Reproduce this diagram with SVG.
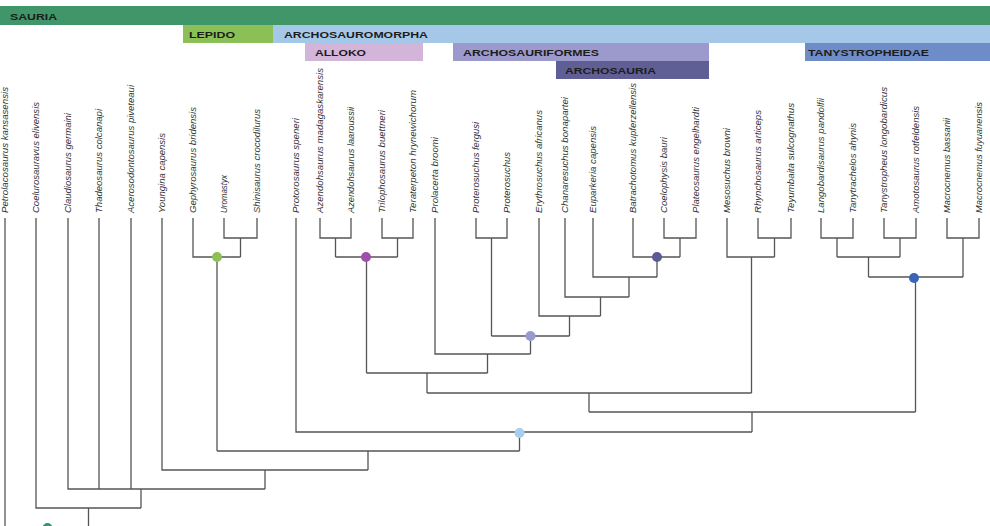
<svg xmlns="http://www.w3.org/2000/svg" width="990" height="526" viewBox="0 0 990 526">
<style>
.band{font-family:"Liberation Sans",Arial,sans-serif;font-weight:bold;font-size:9.5px;fill:#1c1c1c;}
.tx{font-family:"Liberation Sans",Arial,sans-serif;font-style:italic;font-size:9.5px;fill:#333;}
.ln{fill:none;stroke:#555;stroke-width:1.3;}
</style>
<rect width="990" height="526" fill="#fff"/>
<g id="clade-bands">
<g id="band-sauria"><rect x="0" y="6" width="990" height="19" fill="#409669"/><text class="band" x="10" y="19.5" textLength="47" lengthAdjust="spacingAndGlyphs">SAURIA</text></g>
<g id="band-lepido"><rect x="183" y="25" width="90" height="18" fill="#8bc057"/><text class="band" x="189" y="37.5" textLength="46" lengthAdjust="spacingAndGlyphs">LEPIDO</text></g>
<g id="band-archosauromorpha"><rect x="273" y="25" width="717" height="18" fill="#a6c8e8"/><text class="band" x="284" y="37.5" textLength="144" lengthAdjust="spacingAndGlyphs">ARCHOSAUROMORPHA</text></g>
<g id="band-alloko"><rect x="305" y="43" width="118" height="18" fill="#d4b5da"/><text class="band" x="315" y="55.5" textLength="51" lengthAdjust="spacingAndGlyphs">ALLOKO</text></g>
<g id="band-archosauriformes"><rect x="453" y="43" width="256" height="18" fill="#9c9acd"/><text class="band" x="463" y="55.5" textLength="136" lengthAdjust="spacingAndGlyphs">ARCHOSAURIFORMES</text></g>
<g id="band-archosauria"><rect x="556" y="61" width="153" height="18" fill="#5f5f95"/><text class="band" x="565" y="74" textLength="91" lengthAdjust="spacingAndGlyphs">ARCHOSAURIA</text></g>
<g id="band-tanystropheidae"><rect x="805" y="43" width="185" height="18" fill="#6e8cc7"/><text class="band" x="808" y="55.5" textLength="121" lengthAdjust="spacingAndGlyphs">TANYSTROPHEIDAE</text></g>
</g>
<g id="connectors">
<path class="ln" d="M5,218V530"/>
<path class="ln" d="M224,218V238H257V218M240.5,238V257"/>
<path class="ln" d="M193,218V257H240.5M217,257V451"/>
<path class="ln" d="M320,218V238H351V218M335.5,238V257"/>
<path class="ln" d="M382,218V238H413V218M397.5,238V257"/>
<path class="ln" d="M335.5,257H397.5M366.5,257V373"/>
<path class="ln" d="M476,218V238H507V218M491.5,238V336"/>
<path class="ln" d="M664,218V238H696V218M680,238V257"/>
<path class="ln" d="M633,218V257H680M657,257V277"/>
<path class="ln" d="M593,218V277H657M629,277V297"/>
<path class="ln" d="M565,218V297H629M600.5,297V316"/>
<path class="ln" d="M539,218V316H600.5M569.5,316V336"/>
<path class="ln" d="M491.5,336H569.5M530.5,336V354"/>
<path class="ln" d="M435,218V354H530.5M487.5,354V373"/>
<path class="ln" d="M366.5,373H487.5M427,373V393"/>
<path class="ln" d="M758,218V238H791V218M774.5,238V257"/>
<path class="ln" d="M727,218V257H774.5M751.5,257V393"/>
<path class="ln" d="M427,393H751.5M589,393V412"/>
<path class="ln" d="M821,218V238H853V218M837,238V257"/>
<path class="ln" d="M884,218V238H916V218M900,238V257"/>
<path class="ln" d="M837,257H900M868.5,257V277"/>
<path class="ln" d="M947,218V238H979V218M963,238V277"/>
<path class="ln" d="M868.5,277H963M915.5,277V412"/>
<path class="ln" d="M589,412H915.5M752,412V432"/>
<path class="ln" d="M296,218V432H752M519.5,432V451"/>
<path class="ln" d="M217,451H519.5M368,451V470"/>
<path class="ln" d="M162,218V470H368M265,470V489"/>
<path class="ln" d="M68,218V489H265M99,218V489M131,218V489M141,489V508"/>
<path class="ln" d="M36,218V508H141M88.5,508V530"/>
</g>
<g id="node-dots">
<g id="node-sauria"><circle cx="47.5" cy="528" r="5" fill="#3a9470"/></g>
<g id="node-lepidosauromorpha"><circle cx="217" cy="257" r="5" fill="#8cc152"/></g>
<g id="node-allokotosauria"><circle cx="366" cy="257" r="5" fill="#9b50ad"/></g>
<g id="node-archosauromorpha"><circle cx="519.5" cy="433" r="5" fill="#a8cdee"/></g>
<g id="node-archosauriformes"><circle cx="530.5" cy="336" r="5" fill="#9a99d0"/></g>
<g id="node-archosauria"><circle cx="657" cy="257" r="5" fill="#5b5b95"/></g>
<g id="node-tanystropheidae"><circle cx="914" cy="278" r="5" fill="#3b64b8"/></g>
</g>
<g id="taxa">
<g id="t1"><text class="tx" transform="translate(8.3,213) rotate(-90)" textLength="126" lengthAdjust="spacingAndGlyphs">Petrolacosaurus kansasensis</text></g>
<g id="t2"><text class="tx" transform="translate(39.3,213) rotate(-90)" textLength="111" lengthAdjust="spacingAndGlyphs">Coelurosauravus elivensis</text></g>
<g id="t3"><text class="tx" transform="translate(71.3,213) rotate(-90)" textLength="100" lengthAdjust="spacingAndGlyphs">Claudiosaurus germaini</text></g>
<g id="t4"><text class="tx" transform="translate(102.3,213) rotate(-90)" textLength="104" lengthAdjust="spacingAndGlyphs">Thadeosaurus colcanapi</text></g>
<g id="t5"><text class="tx" transform="translate(134.3,213) rotate(-90)" textLength="128" lengthAdjust="spacingAndGlyphs">Acerosodontosaurus piveteaui</text></g>
<g id="t6"><text class="tx" transform="translate(165.3,213) rotate(-90)" textLength="80" lengthAdjust="spacingAndGlyphs">Youngina capensis</text></g>
<g id="t7"><text class="tx" transform="translate(196.3,213) rotate(-90)" textLength="106" lengthAdjust="spacingAndGlyphs">Gephyrosaurus bridensis</text></g>
<g id="t8"><text class="tx" transform="translate(227.3,213) rotate(-90)" textLength="38" lengthAdjust="spacingAndGlyphs">Uromastyx</text></g>
<g id="t9"><text class="tx" transform="translate(260.3,213) rotate(-90)" textLength="104" lengthAdjust="spacingAndGlyphs">Shinisaurus crocodilurus</text></g>
<g id="t10"><text class="tx" transform="translate(299.3,213) rotate(-90)" textLength="95" lengthAdjust="spacingAndGlyphs">Protorosaurus speneri</text></g>
<g id="t11"><text class="tx" transform="translate(323.3,213) rotate(-90)" textLength="145" lengthAdjust="spacingAndGlyphs">Azendohsaurus madagaskarensis</text></g>
<g id="t12"><text class="tx" transform="translate(354.3,213) rotate(-90)" textLength="106" lengthAdjust="spacingAndGlyphs">Azendohsaurus laaroussii</text></g>
<g id="t13"><text class="tx" transform="translate(385.3,213) rotate(-90)" textLength="103" lengthAdjust="spacingAndGlyphs">Trilophosaurus buettneri</text></g>
<g id="t14"><text class="tx" transform="translate(416.3,213) rotate(-90)" textLength="123" lengthAdjust="spacingAndGlyphs">Teraterpeton hrynewichorum</text></g>
<g id="t15"><text class="tx" transform="translate(438.3,213) rotate(-90)" textLength="76" lengthAdjust="spacingAndGlyphs">Prolacerta broomi</text></g>
<g id="t16"><text class="tx" transform="translate(479.3,213) rotate(-90)" textLength="91" lengthAdjust="spacingAndGlyphs">Proterosuchus fergusi</text></g>
<g id="t17"><text class="tx" transform="translate(510.3,213) rotate(-90)" textLength="61" lengthAdjust="spacingAndGlyphs">Proterosuchus</text></g>
<g id="t18"><text class="tx" transform="translate(542.3,213) rotate(-90)" textLength="103" lengthAdjust="spacingAndGlyphs">Erythrosuchus africanus</text></g>
<g id="t19"><text class="tx" transform="translate(568.3,213) rotate(-90)" textLength="116" lengthAdjust="spacingAndGlyphs">Chanaresuchus bonapartei</text></g>
<g id="t20"><text class="tx" transform="translate(596.3,213) rotate(-90)" textLength="87" lengthAdjust="spacingAndGlyphs">Euparkeria capensis</text></g>
<g id="t21"><text class="tx" transform="translate(636.3,213) rotate(-90)" textLength="130" lengthAdjust="spacingAndGlyphs">Batrachotomus kupferzellensis</text></g>
<g id="t22"><text class="tx" transform="translate(667.3,213) rotate(-90)" textLength="76" lengthAdjust="spacingAndGlyphs">Coelophysis bauri</text></g>
<g id="t23"><text class="tx" transform="translate(699.3,213) rotate(-90)" textLength="106" lengthAdjust="spacingAndGlyphs">Plateosaurus engelhardti</text></g>
<g id="t24"><text class="tx" transform="translate(730.3,213) rotate(-90)" textLength="85" lengthAdjust="spacingAndGlyphs">Mesosuchus browni</text></g>
<g id="t25"><text class="tx" transform="translate(761.3,213) rotate(-90)" textLength="103" lengthAdjust="spacingAndGlyphs">Rhynchosaurus articeps</text></g>
<g id="t26"><text class="tx" transform="translate(794.3,213) rotate(-90)" textLength="110" lengthAdjust="spacingAndGlyphs">Teyumbaita sulcognathus</text></g>
<g id="t27"><text class="tx" transform="translate(824.3,213) rotate(-90)" textLength="115" lengthAdjust="spacingAndGlyphs">Langobardisaurus pandolfii</text></g>
<g id="t28"><text class="tx" transform="translate(856.3,213) rotate(-90)" textLength="90" lengthAdjust="spacingAndGlyphs">Tanytrachelos ahynis</text></g>
<g id="t29"><text class="tx" transform="translate(887.3,213) rotate(-90)" textLength="126" lengthAdjust="spacingAndGlyphs">Tanystropheus longobardicus</text></g>
<g id="t30"><text class="tx" transform="translate(919.3,213) rotate(-90)" textLength="107" lengthAdjust="spacingAndGlyphs">Amotosaurus rotfeldensis</text></g>
<g id="t31"><text class="tx" transform="translate(950.3,213) rotate(-90)" textLength="95" lengthAdjust="spacingAndGlyphs">Macrocnemus bassanii</text></g>
<g id="t32"><text class="tx" transform="translate(982.3,213) rotate(-90)" textLength="111" lengthAdjust="spacingAndGlyphs">Macrocnemus fuyuanensis</text></g>
</g>
</svg>
